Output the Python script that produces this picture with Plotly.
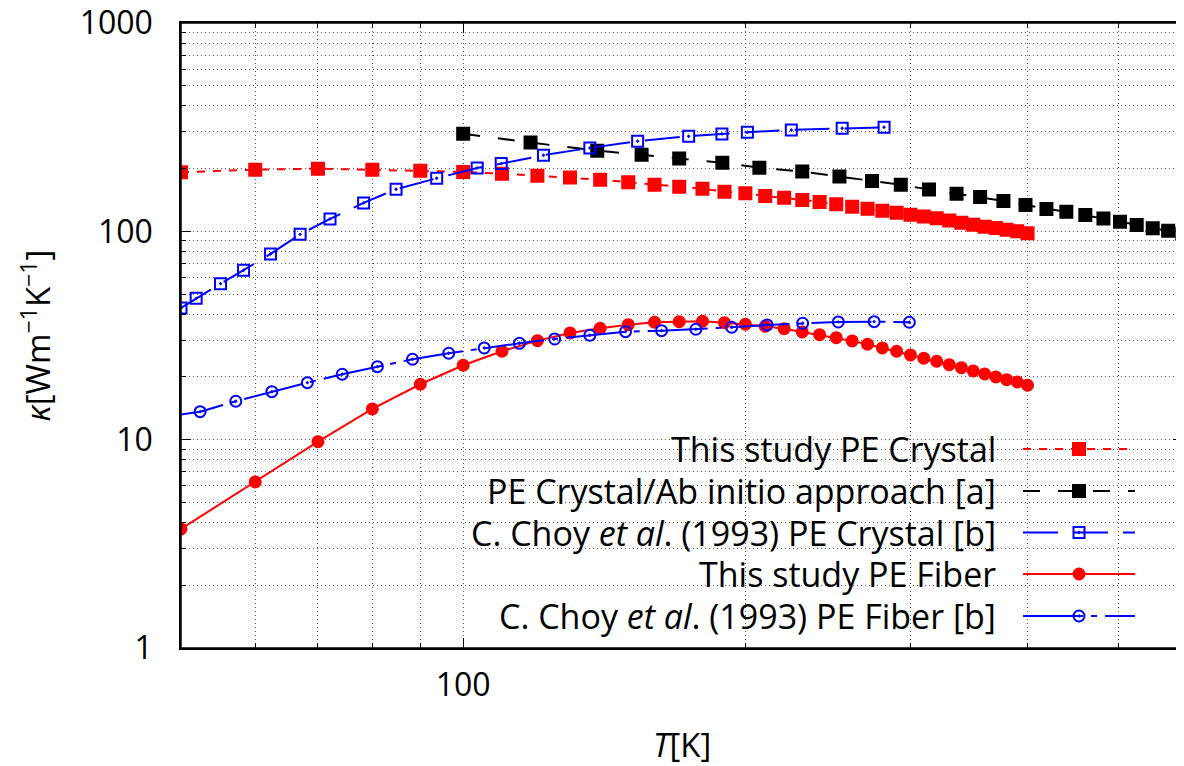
import math
import plotly.graph_objects as go

# ---------------- data ----------------
T_study = [50, 60, 70, 80, 90, 100, 110, 120, 130, 140, 150, 160, 170, 180, 190, 200,
           210, 220, 230, 240, 250, 260, 270, 280, 290, 300, 310, 320, 330, 340, 350,
           360, 370, 380, 390, 400]
k_study_crystal = [192.1, 197.8, 200.0, 197.8, 195.6, 192.8, 189.2, 185.1, 181.1, 177.1,
                   172.1, 167.6, 163.9, 160.3, 155.1, 152.4, 147.9, 145.1, 141.5, 138.4,
                   134.9, 131.4, 128.5, 125.7, 122.9, 120.3, 117.7, 115.6, 112.6, 110.1,
                   107.7, 105.3, 103.8, 101.9, 100.1, 97.9]
k_study_fiber = [3.73, 6.27, 9.78, 14.04, 18.45, 22.76, 26.57, 29.88, 32.53, 34.26, 35.66,
                 36.61, 36.86, 37.02, 36.45, 35.81, 35.03, 34.11, 32.89, 31.92, 30.88,
                 29.78, 28.71, 27.56, 26.57, 25.51, 24.59, 23.79, 22.91, 22.16, 21.37,
                 20.68, 20.0, 19.41, 18.92, 18.25]

T_abinitio = [100, 118, 139, 155, 170, 189, 207, 230, 252, 273, 293, 314, 336, 356, 377,
              398, 419, 440, 461, 482, 502, 523, 544, 565, 585]
k_abinitio = [294.4, 266.7, 244.0, 233.4, 223.4, 213.7, 202.2, 193.5, 183.1, 174.6, 167.6,
              158.6, 151.7, 146.3, 139.9, 133.9, 128.1, 124.3, 119.9, 115.1, 111.3, 107.3,
              103.5, 100.8, 97.5]

T_choy_crystal = [50, 51.9, 55.1, 58.3, 62.3, 67, 72.1, 78.3, 84.8, 93.7, 103.5, 109.8,
                  121.8, 136.5, 153.5, 174, 188.8, 201, 223.9, 253.7, 281.2]
k_choy_crystal = [42.9, 47.7, 56.1, 65.1, 77.9, 96.8, 114.7, 136.9, 159.3, 179.8, 201.6,
                  211.4, 231.9, 251.5, 270.7, 286.1, 293.5, 299, 306.8, 312.6, 316]

T_choy_fiber = [48, 52.4, 57.2, 62.5, 68.2, 74.3, 81.0, 88.3, 96.5, 105.3, 114.8, 125.2,
                136.5, 149, 162.8, 177.1, 193.4, 211, 230.2, 251.3, 274.4, 299.2]
k_choy_fiber = [12.85, 13.63, 15.29, 17.0, 18.78, 20.61, 22.41, 24.32, 25.99, 27.56, 29.02,
                30.44, 31.71, 33.0, 33.37, 33.89, 34.64, 35.53, 36.2, 36.73, 36.86, 36.61]

x_major_ticks = [100]
x_major_text = ["100"]
x_minor_ticks = [60, 70, 80, 90, 200, 300, 400, 500]
y_major_ticks = [1, 10, 100, 1000]
y_major_text = ["1", "10", "100", "1000"]
y_minor_ticks = [2, 3, 4, 5, 6, 7, 8, 9, 20, 30, 40, 50, 60, 70, 80, 90,
                 200, 300, 400, 500, 600, 700, 800, 900]

labels = [
    "This study PE Crystal",
    "PE Crystal/Ab initio approach [a]",
    "C. Choy <i>et al</i>. (1993) PE Crystal [b]",
    "This study PE Fiber",
    "C. Choy <i>et al</i>. (1993) PE Fiber [b]",
]

# ---------------- styles ----------------
FONT = "Open Sans"
RED, BLACK, BLUE = "#ff0000", "#000000", "#0000ff"
styles = [
    dict(color=RED, dash="8px,8px", symbol="square", msize=12),
    dict(color=BLACK, dash="17px,18px", symbol="square", msize=12),
    dict(color=BLUE, dash="35px,15px", symbol="square-open-dot", msize=11),
    dict(color=RED, dash="solid", symbol="circle", msize=11),
    dict(color=BLUE, dash="60px,8px,6px,8px", symbol="circle-open-dot", msize=11),
]
series = [
    (T_study, k_study_crystal),
    (T_abinitio, k_abinitio),
    (T_choy_crystal, k_choy_crystal),
    (T_study, k_study_fiber),
    (T_choy_fiber, k_choy_fiber),
]

# page body adds an 8px offset; target screen positions of the plot frame
OFF = 8
W, H = 1184, 766
SCR_L, SCR_R, SCR_T, SCR_B = 181, 1183, 23, 648
L = SCR_L - OFF
T_M = SCR_T - OFF
R = W - (SCR_R - OFF)
B = H - (SCR_B - OFF)
plot_w = SCR_R - SCR_L
plot_h = SCR_B - SCR_T

fig = go.Figure()
for (xs, ys), st, name in zip(series, styles, labels):
    fig.add_trace(go.Scatter(
        x=xs, y=ys, mode="lines+markers", name=name, showlegend=False,
        line=dict(color=st["color"], width=2, dash=st["dash"]),
        marker=dict(symbol=st["symbol"], size=st["msize"], color=st["color"],
                    line=dict(color=st["color"], width=2)),
    ))


# ---------------- custom gnuplot-style key (text left, sample right) ----------------
def fx(px):
    return (px - SCR_L) / plot_w


def fy(py):
    return (SCR_B - py) / plot_h


key_rows_px = [449, 491, 532.5, 574, 616]
key_x0, key_x1, key_xm, key_text_right = 1023, 1135, 1079, 998
annotations = []
for row_py, st, name in zip(key_rows_px, styles, labels):
    yy = fy(row_py)
    fig.add_trace(go.Scatter(
        x=[fx(key_x0), fx(key_x1)], y=[yy, yy], mode="lines", xaxis="x2", yaxis="y2",
        showlegend=False, hoverinfo="skip",
        line=dict(color=st["color"], width=2, dash=st["dash"]),
    ))
    fig.add_trace(go.Scatter(
        x=[fx(key_xm)], y=[yy], mode="markers", xaxis="x2", yaxis="y2",
        showlegend=False, hoverinfo="skip",
        marker=dict(symbol=st["symbol"], size=st["msize"], color=st["color"],
                    line=dict(color=st["color"], width=2)),
    ))
    annotations.append(dict(
        x=fx(key_text_right), y=yy, xref="paper", yref="paper", text=name,
        showarrow=False, xanchor="right", yanchor="middle",
        font=dict(family=FONT, size=34, color="black"),
    ))

# axis titles
annotations.append(dict(
    x=0.5, y=fy(744), xref="paper", yref="paper", text="<i>T</i>[K]",
    showarrow=False, xanchor="center", yanchor="middle",
    font=dict(family=FONT, size=33, color="black"),
))
annotations.append(dict(
    x=fx(36), y=0.5, xref="paper", yref="paper",
    text="<i>κ</i>[Wm<sup>−1</sup>K<sup>−1</sup>]", textangle=-90,
    showarrow=False, xanchor="center", yanchor="middle",
    font=dict(family=FONT, size=33, color="black"),
))

grid_style = dict(gridcolor="#555555", griddash="1px,3px", gridwidth=1)

fig.update_layout(
    width=W, height=H,
    margin=dict(l=L, r=R, t=T_M, b=B, pad=0, autoexpand=False),
    paper_bgcolor="white", plot_bgcolor="white",
    font=dict(family=FONT, size=32, color="black"),
    showlegend=False,
    xaxis=dict(
        type="log", range=[math.log10(50), math.log10(586)], automargin=False,
        tickmode="array", tickvals=x_major_ticks, ticktext=x_major_text,
        ticks="inside", ticklen=10, tickwidth=1, tickcolor="black",
        showline=True, linecolor="black", linewidth=1.5, mirror="ticks",
        showgrid=True, **grid_style, zeroline=False,
        tickfont=dict(family=FONT, size=32), ticklabelstandoff=8,
        ticklabeloverflow="allow",
        minor=dict(tickmode="array", tickvals=x_minor_ticks, ticks="inside", ticklen=5,
                   tickwidth=1, tickcolor="black", showgrid=True, **grid_style),
    ),
    yaxis=dict(
        type="log", range=[0, 3.0001], automargin=False,
        tickmode="array", tickvals=y_major_ticks, ticktext=y_major_text,
        ticks="inside", ticklen=10, tickwidth=1, tickcolor="black",
        showline=True, linecolor="black", linewidth=1.5, mirror="ticks",
        showgrid=True, **grid_style, zeroline=False,
        tickfont=dict(family=FONT, size=32), ticklabelstandoff=20,
        ticklabeloverflow="allow",
        minor=dict(tickmode="array", tickvals=y_minor_ticks, ticks="inside", ticklen=5,
                   tickwidth=1, tickcolor="black", showgrid=True, **grid_style),
    ),
    xaxis2=dict(overlaying="x", range=[0, 1], visible=False, fixedrange=True),
    yaxis2=dict(overlaying="y", range=[0, 1], visible=False, fixedrange=True),
    shapes=[
        dict(type="rect", xref="paper", yref="paper",
             x0=fx(182), x1=fx(1160), y0=fy(647), y1=fy(428),
             fillcolor="white", line=dict(width=0), layer="between"),
        dict(type="rect", xref="paper", yref="paper", x0=0, x1=1, y0=0, y1=1,
             fillcolor="rgba(0,0,0,0)", line=dict(color="black", width=1.5),
             layer="above"),
    ],
    annotations=annotations,
)

fig.write_html("out.html")
